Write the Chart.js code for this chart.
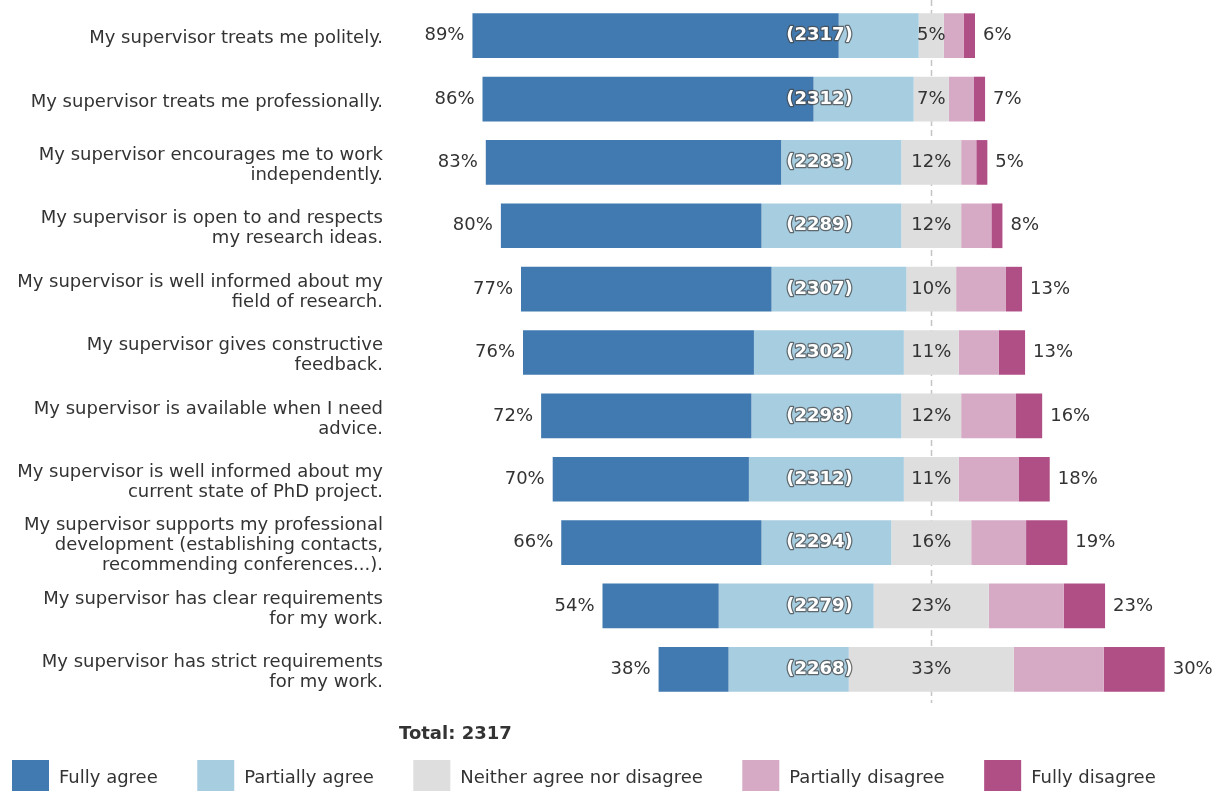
<!DOCTYPE html>
<html>
<head>
<meta charset="utf-8">
<script src="https://cdn.jsdelivr.net/npm/chart.js@4/dist/chart.umd.min.js"></script>
<style>
  html, body { margin: 0; padding: 0; background: #fff; }
  canvas { display: block; }
</style>
</head>
<body>
<canvas id="likertChart" width="1218" height="791"></canvas>
<script>
// Supervision survey (diverging stacked bars)
const statements = [
  ['My supervisor treats me politely.'],
  ['My supervisor treats me professionally.'],
  ['My supervisor encourages me to work', 'independently.'],
  ['My supervisor is open to and respects', 'my research ideas.'],
  ['My supervisor is well informed about my', 'field of research.'],
  ['My supervisor gives constructive', 'feedback.'],
  ['My supervisor is available when I need', 'advice.'],
  ['My supervisor is well informed about my', 'current state of PhD project.'],
  ['My supervisor supports my professional', 'development (establishing contacts,', 'recommending conferences...).'],
  ['My supervisor has clear requirements', 'for my work.'],
  ['My supervisor has strict requirements', 'for my work.']
];
const fullyAgree = [72.8, 65.8, 58.7, 51.8, 49.8, 45.9, 41.8, 39.0, 39.8, 23.1, 13.9];
const partiallyAgree = [15.9, 19.9, 23.9, 27.8, 26.8, 29.8, 29.8, 30.8, 25.8, 30.8, 23.9];
const neutral = [5.0, 7.0, 11.9, 11.9, 9.9, 10.9, 11.9, 10.9, 15.9, 22.9, 32.8];
const partiallyDisagree = [4.0, 5.0, 3.0, 6.0, 9.9, 8.0, 10.9, 11.9, 10.9, 14.9, 17.9];
const fullyDisagree = [2.2, 2.2, 2.2, 2.2, 3.2, 5.2, 5.2, 6.2, 8.2, 8.2, 12.1];
const responses = [2317, 2312, 2283, 2289, 2307, 2302, 2298, 2312, 2294, 2279, 2268];
const totalResponses = 2317;

const categories = ['Fully agree', 'Partially agree', 'Neither agree nor disagree', 'Partially disagree', 'Fully disagree'];
const colors = ['#417ab0', '#a7cde0', '#dedede', '#d6a9c5', '#b04e86'];

// floating ranges so the neutral block sits centred on zero
const faRange = [], paRange = [], neRange = [], pdRange = [], fdRange = [];
statements.forEach((s, i) => {
    const h = neutral[i] / 2;
    paRange.push([-h - partiallyAgree[i], -h]);
    faRange.push([-h - partiallyAgree[i] - fullyAgree[i], -h - partiallyAgree[i]]);
    neRange.push([-h, h]);
    pdRange.push([h, h + partiallyDisagree[i]]);
    fdRange.push([h + partiallyDisagree[i], h + partiallyDisagree[i] + fullyDisagree[i]]);
});

const FONT = 'DejaVu Sans';
const TEXT = '#333333';

function bar(label, data, color) {
    return {
        label: label,
        data: data,
        backgroundColor: color,
        borderWidth: 0,
        grouped: false,
        barPercentage: 0.705,
        categoryPercentage: 1
    };
}

const likertPlugin = {
    id: 'likert',
    beforeDatasetsDraw(chart) {
        const ctx = chart.ctx;
        const x = Math.round(chart.scales.x.getPixelForValue(0)) + 0.5;
        ctx.save();
        ctx.strokeStyle = '#c4c4c4';
        ctx.lineWidth = 1.5;
        ctx.setLineDash([6, 4]);
        ctx.beginPath();
        ctx.moveTo(x, 0);
        ctx.lineTo(x, chart.chartArea.bottom + 2);
        ctx.stroke();
        ctx.restore();
    },
    afterDatasetsDraw(chart) {
        const ctx = chart.ctx;
        const xs = chart.scales.x;
        const ys = chart.scales.y;
        ctx.save();
        ctx.textBaseline = 'middle';
        statements.forEach((s, i) => {
            const y = ys.getPixelForValue(i);
            const agree = fullyAgree[i] + partiallyAgree[i];
            const disagree = partiallyDisagree[i] + fullyDisagree[i];
            ctx.font = '18px "' + FONT + '"';
            ctx.fillStyle = TEXT;
            ctx.textAlign = 'right';
            ctx.fillText(Math.round(agree) + '%', xs.getPixelForValue(faRange[i][0]) - 8, y);
            ctx.textAlign = 'left';
            ctx.fillText(Math.round(disagree) + '%', xs.getPixelForValue(fdRange[i][1]) + 8, y);
            ctx.textAlign = 'center';
            ctx.fillText(Math.round(neutral[i]) + '%', xs.getPixelForValue(0), y);

            // respondent count
            ctx.font = 'bold 18px "' + FONT + '"';
            const cx = xs.getPixelForValue(-22.2);
            ctx.lineJoin = 'round';
            ctx.lineWidth = 2.5;
            ctx.strokeStyle = 'rgba(70,70,70,0.75)';
            ctx.strokeText('(' + responses[i] + ')', cx, y);
            ctx.fillStyle = '#ffffff';
            ctx.fillText('(' + responses[i] + ')', cx, y);
        });

        // total + legend
        ctx.textAlign = 'left';
        ctx.fillStyle = TEXT;
        ctx.font = 'bold 18px "' + FONT + '"';
        ctx.fillText('Total: ' + totalResponses, 399, 734);

        ctx.font = '18px "' + FONT + '"';
        let lx = 12;
        categories.forEach((c, k) => {
            ctx.fillStyle = colors[k];
            ctx.fillRect(lx, 760, 37, 37);
            ctx.fillStyle = TEXT;
            ctx.fillText(c, lx + 47, 778);
            lx += 47 + ctx.measureText(c).width + 39.5;
        });
        ctx.restore();
    }
};

const ctx = document.getElementById('likertChart').getContext('2d');
const likertChart = new Chart(ctx, {
    type: 'bar',
    data: {
        labels: statements,
        datasets: [
            bar(categories[0], faRange, colors[0]),
            bar(categories[1], paRange, colors[1]),
            bar(categories[2], neRange, colors[2]),
            bar(categories[3], pdRange, colors[3]),
            bar(categories[4], fdRange, colors[4])
        ]
    },
    options: {
        indexAxis: 'y',
        responsive: false,
        animation: false,
        layout: { padding: { top: 4, bottom: 90, left: 0, right: 0 } },
        scales: {
            x: { min: -106, max: 57, display: false },
            y: {
                grid: { display: false, drawTicks: false },
                border: { display: false },
                ticks: {
                    autoSkip: false,
                    padding: 15,
                    labelOffset: 3,
                    color: TEXT,
                    font: { family: FONT, size: 18, lineHeight: '20px' }
                },
                afterFit(scale) {
                    scale.width = 398;
                    scale.paddingTop = 0;
                    scale.paddingBottom = 0;
                }
            }
        },
        plugins: {
            legend: { display: false },
            tooltip: { enabled: false },
            title: { display: false }
        }
    },
    plugins: [likertPlugin]
});
</script>
</body>
</html>
